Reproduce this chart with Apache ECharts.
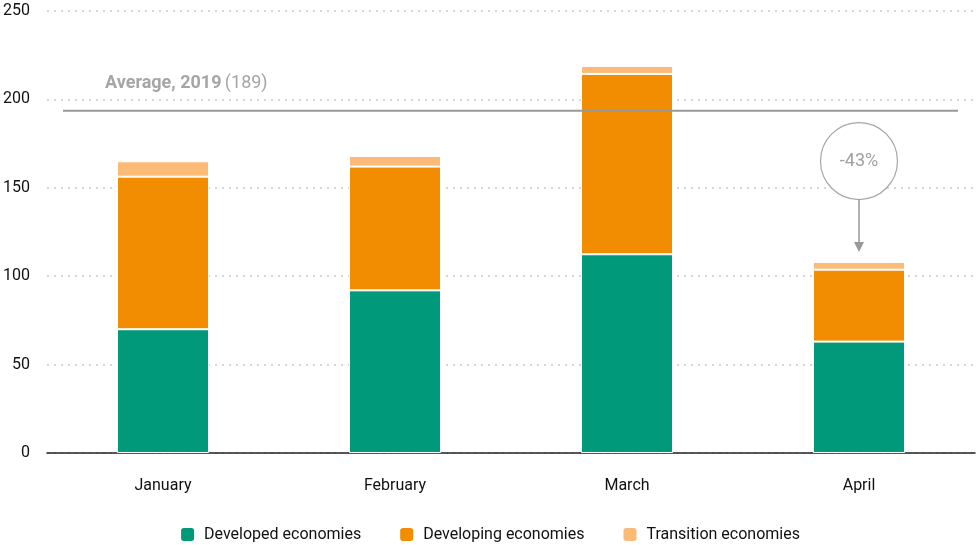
<!DOCTYPE html>
<html><head><meta charset="utf-8">
<script src="https://cdn.jsdelivr.net/npm/echarts@6/dist/echarts.min.js"></script>
<style>html,body{margin:0;padding:0;background:#fff}#c{width:979px;height:545px}</style>
</head><body><div id="c"></div>
<script>
const categories = ['January', 'February', 'March', 'April'];
const developed = [70, 92, 112.4, 63];
const developing = [86.3, 70, 102, 40.7];
const transition = [8.7, 6, 4.5, 4.3];
const yTicks = [0, 50, 100, 150, 200, 250];
const avgLabelValue = 189;
const avgLineLevel = 193.6;
const changeLabel = '-43%';

const FONT = 'Roboto, "Liberation Sans", sans-serif';
const chart = echarts.init(document.getElementById('c'), null, {renderer: 'canvas'});
const colors = ['#00997a', '#f28c00', '#fbbb76'];
function bar(name, data, color) {
  return {
    name, type: 'bar', stack: 'total', data, barWidth: 92,
    itemStyle: {color, borderColor: '#fff', borderWidth: 1}
  };
}
chart.setOption({
  animation: false,
  textStyle: {fontFamily: FONT},
  grid: {left: 47, right: 4, top: 11, bottom: 92, containLabel: false},
  legend: {
    top: 521, left: 'center', itemWidth: 15, itemHeight: 15, itemGap: 37, icon: 'roundRect',
    textStyle: {fontSize: 16, color: '#111', fontFamily: FONT, padding: [0, 0, 0, 4]},
    data: ['Developed economies', 'Developing economies', 'Transition economies']
  },
  xAxis: {
    type: 'category', data: categories,
    axisLine: {lineStyle: {color: '#222', width: 1.5}},
    axisTick: {show: false},
    axisLabel: {fontSize: 16, color: '#111', margin: 25, fontFamily: FONT}
  },
  yAxis: {
    type: 'value', min: yTicks[0], max: yTicks[yTicks.length - 1], interval: 50,
    axisLine: {show: false}, axisTick: {show: false},
    axisLabel: {fontSize: 16, color: '#111', margin: 17, fontFamily: FONT},
    splitLine: {lineStyle: {color: '#d6d6d6', type: [2, 5], width: 2}}
  },
  series: [
    bar('Developed economies', developed, colors[0]),
    bar('Developing economies', developing, colors[1]),
    bar('Transition economies', transition, colors[2])
  ]
});

function drawAnnotations() {
  const avgY = chart.convertToPixel({yAxisIndex: 0}, avgLineLevel);
  const lastIdx = categories.length - 1;
  const aprilTotal = developed[lastIdx] + developing[lastIdx] + transition[lastIdx];
  const [ax, aTop] = chart.convertToPixel({seriesIndex: 0}, [lastIdx, aprilTotal]);
  const tipY = aTop - 10;
  const cy = aTop - 101;
  const r = 38.5;
  chart.setOption({
    graphic: [
      {type: 'line', shape: {x1: 63, y1: avgY, x2: 958, y2: avgY}, style: {stroke: '#999', lineWidth: 2}, z: 10},
      {type: 'text', x: 105, y: avgY - 18, style: {
        text: '{b|Average, 2019} {n|(' + avgLabelValue + ')}', textVerticalAlign: 'bottom',
        rich: {
          b: {fontSize: 18, fontWeight: 'bold', fill: '#a6a6a6', fontFamily: FONT},
          n: {fontSize: 18, fill: '#a6a6a6', fontFamily: FONT}
        }
      }, z: 10},
      {type: 'circle', shape: {cx: ax, cy: cy, r: r}, style: {fill: '#fff', stroke: '#a6a6a6', lineWidth: 1.2}, z: 10},
      {type: 'text', x: ax, y: cy, style: {text: changeLabel, fontSize: 18, fill: '#a0a0a0', fontFamily: FONT, align: 'center', verticalAlign: 'middle'}, z: 11},
      {type: 'line', shape: {x1: ax, y1: cy + r, x2: ax, y2: tipY - 6}, style: {stroke: '#999', lineWidth: 1.5}, z: 10},
      {type: 'polygon', shape: {points: [[ax - 5, tipY - 10], [ax + 5, tipY - 10], [ax, tipY]]}, style: {fill: '#999'}, z: 10}
    ]
  });
}
drawAnnotations();
</script>
</body></html>
